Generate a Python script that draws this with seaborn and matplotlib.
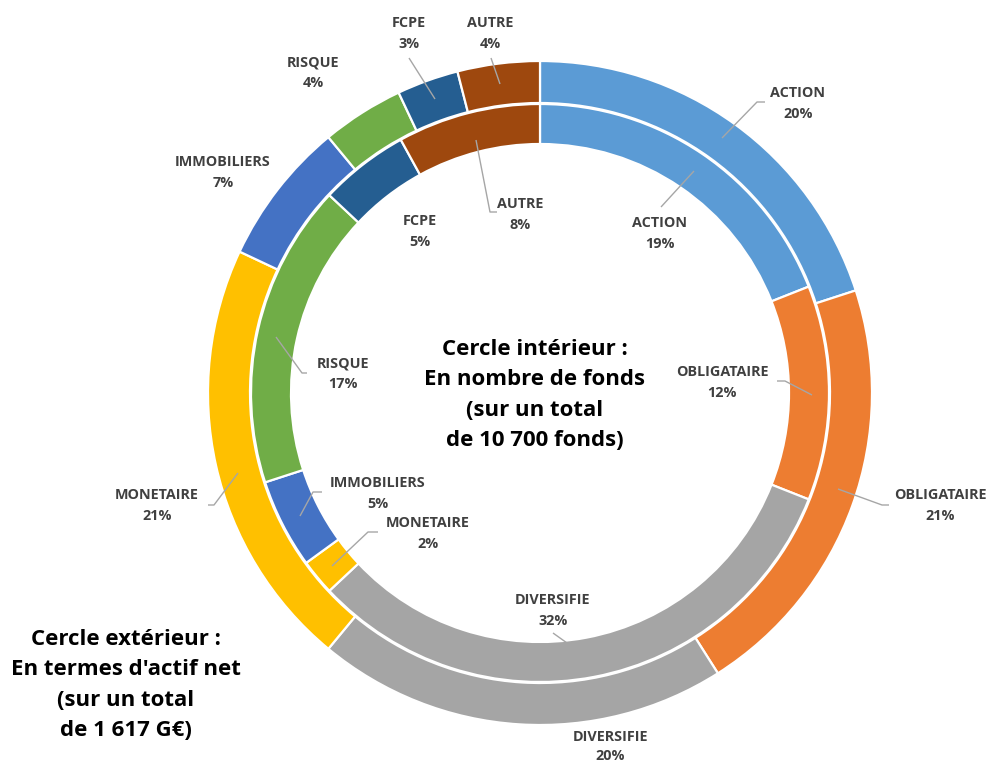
import matplotlib
matplotlib.use("Agg")
import matplotlib.pyplot as plt
import seaborn as sns

# ---- data ----
categories = ["ACTION", "OBLIGATAIRE", "DIVERSIFIE", "MONETAIRE",
              "IMMOBILIERS", "RISQUE", "FCPE", "AUTRE"]
outer_pct = [20, 21, 20, 21, 7, 4, 3, 4]      # actif net (1 617 G€)
inner_pct = [19, 12, 32, 2, 5, 17, 5, 8]      # nombre de fonds (10 700)
colors_hex = ["#5B9BD5", "#ED7D31", "#A5A5A5", "#FFC000",
              "#4472C4", "#70AD47", "#255E91", "#9E480E"]

center_text = "Cercle intérieur :\nEn nombre de fonds\n(sur un total\nde 10 700 fonds)"
corner_text = "Cercle extérieur :\nEn termes d'actif net\n(sur un total\nde 1 617 G€)"

sns.set_theme(style="white")
plt.rcParams["font.family"] = ["Open Sans", "DejaVu Sans"]
palette = sns.color_palette(colors_hex)

W, H = 992, 765
fig = plt.figure(figsize=(W / 100, H / 100), dpi=100)
ax = fig.add_axes([0, 0, 1, 1])

def Y(y):
    return H - y

cx, cy = 540, Y(393)

ax.pie(outer_pct, radius=332, center=(cx, cy), startangle=90, counterclock=False,
       colors=palette, wedgeprops=dict(width=42, edgecolor="white", linewidth=1.6))
ax.pie(inner_pct, radius=289, center=(cx, cy), startangle=90, counterclock=False,
       colors=palette, wedgeprops=dict(width=40, edgecolor="white", linewidth=1.6))

ax.set_xlim(0, W)
ax.set_ylim(0, H)
ax.set_aspect("auto")
ax.axis("off")

lab_col = "#404040"
line_col = "#A6A6A6"
fs = 10.4

# label positions (px, top-left origin) for name line; percent line below
outer_pos = {
    "ACTION": (798, 93), "OBLIGATAIRE": (940, 495), "DIVERSIFIE": (610, 737),
    "MONETAIRE": (157, 495), "IMMOBILIERS": (223, 162), "RISQUE": (313, 62),
    "FCPE": (409, 23), "AUTRE": (490, 23),
}
inner_pos = {
    "ACTION": (660, 223), "OBLIGATAIRE": (722, 372), "DIVERSIFIE": (553, 600),
    "MONETAIRE": (428, 523), "IMMOBILIERS": (378, 483), "RISQUE": (343, 363),
    "FCPE": (420, 221), "AUTRE": (520, 204),
}

for cat, p in zip(categories, outer_pct):
    x, y = outer_pos[cat]
    gap = 19 if cat == "DIVERSIFIE" else 21
    ax.text(x, Y(y), cat, ha="center", va="center", fontsize=fs,
            fontweight="bold", color=lab_col)
    ax.text(x, Y(y + gap), f"{p}%", ha="center", va="center", fontsize=fs,
            fontweight="bold", color=lab_col)
for cat, p in zip(categories, inner_pct):
    x, y = inner_pos[cat]
    ax.text(x, Y(y), cat, ha="center", va="center", fontsize=fs,
            fontweight="bold", color=lab_col)
    ax.text(x, Y(y + 21), f"{p}%", ha="center", va="center", fontsize=fs,
            fontweight="bold", color=lab_col)

# leader lines
leaders = [
    [(722, 138), (757, 102), (765, 102)],      # ACTION outer
    [(694, 171), (661, 207)],                  # ACTION inner
    [(812, 395), (785, 381), (777, 381)],      # OBLIGATAIRE inner
    [(838, 489), (882, 505), (889, 505)],      # OBLIGATAIRE outer
    [(300, 516), (313, 492), (322, 492)],      # IMMOBILIERS inner
    [(332, 566), (368, 532), (378, 532)],      # MONETAIRE inner
    [(567, 643), (553, 633)],                  # DIVERSIFIE inner
    [(435, 99), (409, 58)],                    # FCPE outer
    [(500, 84), (491, 58)],                    # AUTRE outer
    [(276, 337), (302, 373), (307, 373)],      # RISQUE inner
    [(238, 473), (214, 505), (208, 505)],      # MONETAIRE outer
    [(476, 140), (490, 212), (497, 212)],      # AUTRE inner
]
for pts in leaders:
    xs = [p[0] for p in pts]
    ys = [Y(p[1]) for p in pts]
    ax.plot(xs, ys, color=line_col, linewidth=1.0, solid_capstyle="butt")

ax.text(535, Y(395), center_text, ha="center", va="center", fontsize=16,
        fontweight="bold", color="black", linespacing=1.6)
ax.text(126, Y(685), corner_text, ha="center", va="center", fontsize=16,
        fontweight="bold", color="black", linespacing=1.6)

fig.savefig("out.png", dpi=100)
